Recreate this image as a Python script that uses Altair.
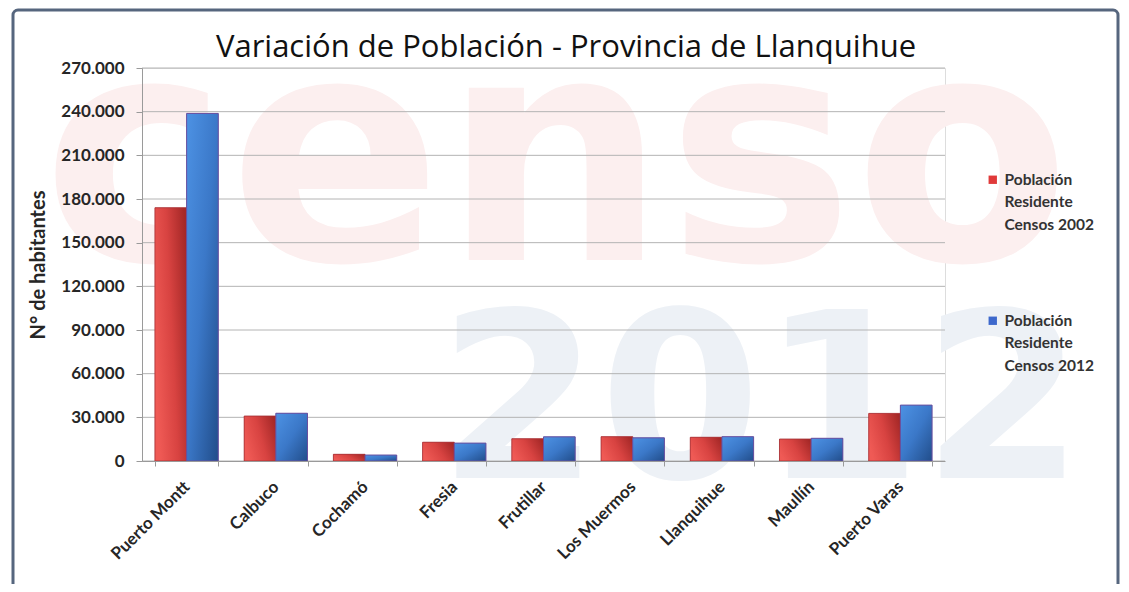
import altair as alt
import pandas as pd

# ---- data ----
comunas = ["Puerto Montt", "Calbuco", "Cochamó", "Fresia", "Frutillar",
           "Los Muermos", "Llanquihue", "Maullín", "Puerto Varas"]
pob_2002 = [174000, 30900, 4600, 12900, 15300, 16700, 16300, 15100, 32700]
pob_2012 = [238800, 32800, 4100, 12300, 16600, 15900, 16700, 15600, 38400]
series = ["Población Residente Censos 2002", "Población Residente Censos 2012"]
y_ticks = [0, 30000, 60000, 90000, 120000, 150000, 180000, 210000, 240000, 270000]
title_text = "Variación de Población - Provincia de Llanquihue"
y_title = "N° de habitantes"

rows = []
for c, a, b in zip(comunas, pob_2002, pob_2012):
    rows.append({"comuna": c, "serie": series[0], "valor": a})
    rows.append({"comuna": c, "serie": series[1], "valor": b})
df = pd.DataFrame(rows)
df_ticks = pd.DataFrame({"t": y_ticks})
one = pd.DataFrame({"k": [0]})

FONT = "Lato"
TXT = "#262626"
AX = "#9a9a9a"

x_enc = alt.X("comuna:N", sort=comunas,
              scale=alt.Scale(paddingInner=0.29, paddingOuter=0.145),
              axis=alt.Axis(title=None, labelAngle=-45, labelAlign="right",
                            labelBaseline="middle", labelFont=FONT,
                            labelFontWeight="bold", labelFontSize=17,
                            labelColor=TXT, labelPadding=18, tickBand="extent",
                            tickSize=5, tickColor=AX, domainColor=AX, zindex=1))
xo_enc = alt.XOffset("serie:N", sort=series,
                     scale=alt.Scale(domain=series, paddingInner=0, paddingOuter=0))
y_enc = alt.Y("valor:Q", scale=alt.Scale(domain=[0, 270000], nice=False, zero=True),
              axis=alt.Axis(values=y_ticks,
                            labelExpr="replace(format(datum.value, ','), ',', '.')",
                            labelFont=FONT, labelFontWeight="bold", labelFontSize=17,
                            labelColor=TXT, labelPadding=12, tickSize=6,
                            tickColor=AX, domainColor=AX, grid=False, zindex=1,
                            title=y_title, titleFont=FONT, titleFontSize=20,
                            titleFontWeight="bold", titleColor=TXT, titlePadding=12))

# decorative frame
frame = alt.Chart(one).mark_rect(fill=None, stroke="#56667e", strokeWidth=3,
                                 cornerRadius=5).encode(
    x=alt.value(-129), x2=alt.value(976), y=alt.value(-58), y2=alt.value(540))

# chart title
title = alt.Chart(one).mark_text(text=title_text, font="Open Sans", fontSize=31,
                                 fontWeight="normal", color="#111111",
                                 align="center", baseline="alphabetic").encode(
    x=alt.value(424), y=alt.value(-11))

# faint background watermark
wm1 = alt.Chart(one).mark_text(text="censo", font="DejaVu Sans", fontWeight="bold",
                               fontSize=315, align="left", baseline="alphabetic",
                               color="#fcefef").encode(
    x=alt.value(-100), y=alt.value(192))
wm2 = alt.Chart(one).mark_text(text="2012", font="DejaVu Sans", fontWeight="bold",
                               fontSize=232, align="left", baseline="alphabetic",
                               color="#edf1f6").encode(
    x=alt.value(296), y=alt.value(410))

grid = alt.Chart(df_ticks).mark_rule(color="#b4b4b4", strokeWidth=1).encode(
    y=alt.Y("t:Q"))

bars = alt.Chart(df).mark_bar().encode(
    x=x_enc, xOffset=xo_enc, y=y_enc,
    color=alt.Color("serie:N", sort=series,
                    scale=alt.Scale(domain=series, range=["#e03a3a", "#3d68cc"]),
                    legend=alt.Legend(title=None, orient="none", legendX=843,
                                      legendY=104, symbolType="square",
                                      symbolSize=70, symbolStrokeWidth=0,
                                      labelFont=FONT, labelFontWeight="bold",
                                      labelFontSize=15.5, labelColor="#333333",
                                      labelBaseline="middle", labelOffset=4,
                                      labelLimit=200, rowPadding=79, padding=0,
                                      labelExpr="[substring(datum.label,0,9), substring(datum.label,10,19), substring(datum.label,20)]")))

red_grad = {"gradient": "linear", "x1": 0, "y1": 0.6, "x2": 1, "y2": 0.2,
            "stops": [{"offset": 0, "color": "#ef5a55"},
                      {"offset": 0.5, "color": "#d84341"},
                      {"offset": 1, "color": "#a52827"}]}
blue_grad = {"gradient": "linear", "x1": 0, "y1": 0, "x2": 1, "y2": 1,
             "stops": [{"offset": 0, "color": "#4d92e4"},
                       {"offset": 0.5, "color": "#3b78c8"},
                       {"offset": 1, "color": "#214d8a"}]}

bars_red = alt.Chart(df).mark_bar(stroke="#a33035", strokeWidth=0.8).encode(
    x=alt.X("comuna:N", sort=comunas), xOffset=alt.XOffset("serie:N", sort=series),
    y=alt.Y("valor:Q"), fill=alt.value(red_grad)
).transform_filter(alt.datum.serie == series[0])
bars_blue = alt.Chart(df).mark_bar(stroke="#6a4f9e", strokeWidth=1).encode(
    x=alt.X("comuna:N", sort=comunas), xOffset=alt.XOffset("serie:N", sort=series),
    y=alt.Y("valor:Q"), fill=alt.value(blue_grad)
).transform_filter(alt.datum.serie == series[1])

chart = alt.layer(wm1, wm2, grid, bars, bars_red, bars_blue, title, frame).properties(
    width=803, height=393,
    autosize=alt.AutoSizeParams(type="none"),
    padding={"left": 134, "top": 60, "right": 176, "bottom": 123},
    background="white",
).configure_view(stroke=None).configure(style={"guide-label": {"lineHeight": 22.5}})

chart.save("out.html", embed_options={"renderer": "svg", "actions": False})
